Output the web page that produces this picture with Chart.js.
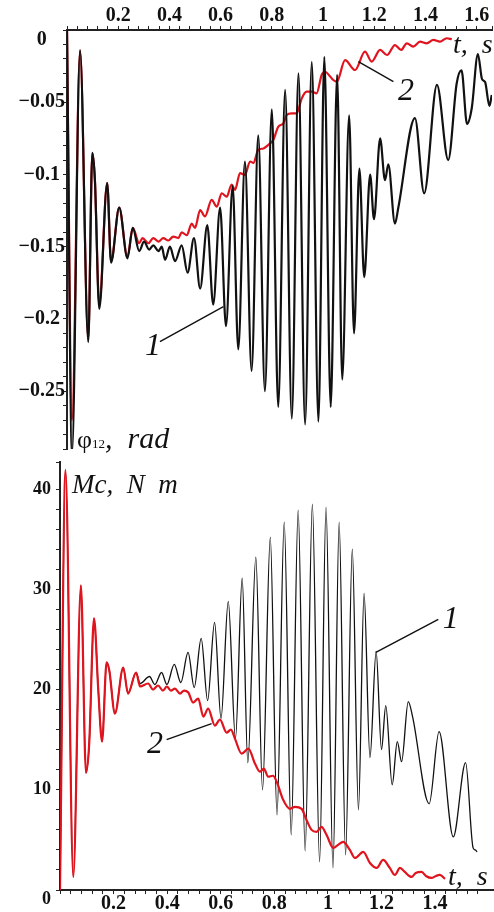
<!DOCTYPE html>
<html>
<head>
<meta charset="utf-8">
<script src="https://cdn.jsdelivr.net/npm/chart.js@4"></script>
<style>
  html, body { margin: 0; padding: 0; background: #fff; }
  #wrap { position: relative; width: 494px; height: 912px; }
  #topChart { position: absolute; left: 0; top: 0; }
  #bottomChart { position: absolute; left: 0; top: 455px; }
</style>
</head>
<body>
<div id="wrap">
  <canvas id="topChart" width="494" height="455"></canvas>
  <canvas id="bottomChart" width="494" height="457"></canvas>
</div>
<script>
// phi12 (rad) - curve 1 (black)
const phi1T = [0, 0.0195, 0.051, 0.083, 0.099, 0.109, 0.126, 0.157, 0.172, 0.204,
  0.236, 0.257, 0.282, 0.301, 0.321, 0.337, 0.357, 0.370, 0.383, 0.402,
  0.422, 0.448, 0.471, 0.496, 0.520, 0.548, 0.571, 0.598, 0.621, 0.647,
  0.669, 0.695, 0.721, 0.747, 0.773, 0.800, 0.825, 0.852, 0.878, 0.904,
  0.930, 0.956, 0.982, 1.005, 1.030, 1.055, 1.075, 1.102, 1.121, 1.142,
  1.161, 1.184, 1.199, 1.223, 1.242, 1.255, 1.281, 1.294, 1.359, 1.395,
  1.445, 1.489, 1.522, 1.541, 1.5625, 1.581, 1.605, 1.621, 1.633, 1.650, 1.659];
const phi1V = [0, -0.293, -0.014, -0.216, -0.085, -0.104, -0.193, -0.106, -0.161, -0.123,
  -0.158, -0.137, -0.153, -0.1465, -0.152, -0.149, -0.153, -0.150, -0.159, -0.150,
  -0.160, -0.149, -0.168, -0.144, -0.179, -0.135, -0.190, -0.123, -0.205, -0.108,
  -0.221, -0.091, -0.236, -0.073, -0.250, -0.055, -0.261, -0.0415, -0.269, -0.030,
  -0.273, -0.022, -0.271, -0.0185, -0.261, -0.031, -0.242, -0.059, -0.210, -0.096,
  -0.171, -0.100, -0.131, -0.075, -0.104, -0.093, -0.134, -0.123, -0.061, -0.113,
  -0.038, -0.090, -0.037, -0.028, -0.065, -0.054, -0.0166, -0.034, -0.036, -0.0526, -0.045];

// phi12 (rad) - curve 2 (red)
const phi2T = [0, 0.0195, 0.051, 0.083, 0.099, 0.109, 0.126, 0.157, 0.172, 0.204,
  0.236, 0.257, 0.282, 0.295, 0.318, 0.337, 0.357, 0.376, 0.396, 0.415,
  0.435, 0.448, 0.468, 0.487, 0.500, 0.520, 0.539, 0.565, 0.585, 0.604,
  0.624, 0.643, 0.656, 0.676, 0.695, 0.715, 0.728, 0.747, 0.767, 0.786,
  0.806, 0.825, 0.845, 0.858, 0.878, 0.897, 0.917, 0.936, 0.956, 0.975,
  0.995, 1.008, 1.027, 1.040, 1.054, 1.086, 1.125, 1.164, 1.190, 1.223,
  1.250, 1.281, 1.305, 1.327, 1.352, 1.379, 1.405, 1.431, 1.457, 1.483, 1.503];
const phi2V = [0, -0.27, -0.014, -0.214, -0.085, -0.104, -0.19, -0.106, -0.16, -0.123,
  -0.157, -0.137, -0.1476, -0.144, -0.1476, -0.144, -0.1465, -0.144, -0.1457, -0.143,
  -0.144, -0.140, -0.142, -0.134, -0.137, -0.1246, -0.129, -0.1176, -0.1223, -0.113,
  -0.1153, -0.107, -0.1107, -0.099, -0.1003, -0.091, -0.092, -0.083, -0.082, -0.0796,
  -0.076, -0.067, -0.0646, -0.0588, -0.0577, -0.0577, -0.0473, -0.0427, -0.0427, -0.0438,
  -0.031, -0.0289, -0.032, -0.0346, -0.0358, -0.0208, -0.0277, -0.015, -0.0219, -0.0138,
  -0.0173, -0.0104, -0.0138, -0.0092, -0.0115, -0.0081, -0.0092, -0.0069, -0.0081, -0.0057, -0.0064];

// Mc (N m) - curve 1 (black)
const m1T = [0, 0.0205, 0.0496, 0.078, 0.097, 0.109, 0.127, 0.143, 0.157, 0.174,
  0.184, 0.205, 0.236, 0.254, 0.284, 0.299, 0.334, 0.354, 0.379, 0.399,
  0.4265, 0.451, 0.478, 0.501, 0.527, 0.551, 0.577, 0.601, 0.628, 0.655,
  0.680, 0.701, 0.731, 0.756, 0.785, 0.810, 0.837, 0.863, 0.889, 0.915,
  0.942, 0.969, 0.993, 1.019, 1.042, 1.066, 1.091, 1.114, 1.135, 1.157,
  1.180, 1.200, 1.216, 1.240, 1.259, 1.275, 1.300, 1.316, 1.378, 1.415,
  1.468, 1.514, 1.542, 1.550, 1.557];
const m1V = [0, 41.9, 1.3, 30.4, 11.7, 14.6, 27.1, 19.9, 14.8, 22.7,
  21.9, 17.6, 22.2, 19.6, 21.7, 20.6, 21.3, 20.5, 21.7, 20.5,
  22.5, 20.7, 23.7, 20.2, 25.1, 18.9, 26.7, 17.1, 28.8, 15.1,
  31.1, 12.7, 33.2, 10.0, 35.2, 7.5, 36.7, 5.5, 37.9, 3.9,
  38.5, 2.8, 38.2, 2.2, 36.7, 3.5, 34.0, 8.0, 29.6, 13.2,
  23.8, 14.0, 18.4, 10.5, 14.8, 12.8, 18.8, 17.3, 8.6, 15.8,
  5.3, 12.7, 4.2, 4.0, 3.8];

// Mc (N m) - curve 2 (red)
const m2T = [0, 0.0205, 0.0496, 0.078, 0.097, 0.109, 0.127, 0.143, 0.157, 0.174,
  0.184, 0.205, 0.236, 0.254, 0.284, 0.299, 0.329, 0.347, 0.366, 0.384,
  0.399, 0.414, 0.429, 0.448, 0.463, 0.479, 0.497, 0.516, 0.535, 0.553,
  0.578, 0.597, 0.622, 0.638, 0.653, 0.678, 0.703, 0.728, 0.746, 0.761,
  0.777, 0.795, 0.809, 0.833, 0.858, 0.877, 0.902, 0.920, 0.939, 0.958,
  0.976, 0.995, 1.020, 1.038, 1.057, 1.082, 1.101, 1.132, 1.157, 1.182,
  1.206, 1.231, 1.250, 1.269, 1.287, 1.312, 1.328, 1.350, 1.366, 1.387,
  1.403, 1.418, 1.437];
const m2V = [0, 41.9, 1.3, 30.4, 11.7, 14.6, 27.1, 19.9, 14.8, 22.7,
  21.9, 17.6, 22.2, 19.6, 21.7, 20.3, 20.6, 20.0, 20.4, 19.9,
  20.3, 19.9, 20.1, 19.6, 19.9, 19.7, 18.7, 19.1, 17.3, 18.1,
  16.4, 17.0, 15.7, 16.0, 15.1, 13.6, 14.1, 12.6, 11.8, 12.1,
  11.3, 11.4, 10.8, 9.0, 8.1, 8.3, 8.1, 7.0, 6.0, 5.8,
  6.3, 5.5, 4.2, 4.5, 4.8, 4.0, 3.2, 3.8, 2.7, 2.2,
  3.0, 2.2, 1.5, 2.2, 1.8, 1.3, 1.7, 1.8, 1.4, 1.2,
  1.4, 1.5, 1.1];

const serif = "'Liberation Serif', 'DejaVu Serif', serif";
const RED = '#e0141e';
const INK = '#111';

// pasangkan array waktu dan nilai jadi titik {x, y}
function xy(ts, vs) {
  return ts.map(function (t, i) { return { x: t, y: vs[i] }; });
}

// label hanya pada kelipatan "step", tanda minus tipografis
function majorLabel(step, decimals, zeroText) {
  return function (value) {
    const k = value / step;
    if (Math.abs(k - Math.round(k)) > 1e-6) return '';
    const v = Math.round(value * Math.pow(10, decimals)) / Math.pow(10, decimals);
    if (v === 0) return zeroText;
    return String(v).replace('-', '\u2212');
  };
}

// teks dan garis penunjuk, posisinya dalam satuan data
function makeNotes(texts, lines) {
  return {
    id: 'notes',
    afterDatasetsDraw(chart) {
      const ctx = chart.ctx;
      const sx = chart.scales.x;
      const sy = chart.scales.y;
      ctx.save();
      ctx.strokeStyle = INK;
      ctx.lineWidth = 1.4;
      lines.forEach(function (l) {
        ctx.beginPath();
        ctx.moveTo(sx.getPixelForValue(l[0]), sy.getPixelForValue(l[1]));
        ctx.lineTo(sx.getPixelForValue(l[2]), sy.getPixelForValue(l[3]));
        ctx.stroke();
      });
      ctx.fillStyle = INK;
      ctx.textBaseline = 'alphabetic';
      ctx.textAlign = 'left';
      texts.forEach(function (t) {
        let px = sx.getPixelForValue(t.x);
        const py = sy.getPixelForValue(t.y);
        t.runs.forEach(function (r) {
          ctx.font = r[1];
          ctx.fillText(r[0], px, py + (r[2] || 0));
          px += ctx.measureText(r[0]).width;
        });
      });
      ctx.restore();
    }
  };
}

function axisGrid() {
  return { display: true, drawOnChartArea: false, drawTicks: true, tickLength: 4, tickColor: '#222', tickWidth: 1 };
}

const it = 'italic 28px ' + serif;
const big = 'italic 32px ' + serif;

// grafik atas: phi12
new Chart(document.getElementById('topChart'), {
  type: 'line',
  data: {
    datasets: [
      { data: xy(phi1T, phi1V), borderColor: INK, borderWidth: 2.2, pointRadius: 0, cubicInterpolationMode: 'monotone', order: 1 },
      { data: xy(phi2T, phi2V), borderColor: RED, borderWidth: 2.2, pointRadius: 0, cubicInterpolationMode: 'monotone', order: 2 }
    ]
  },
  options: {
    responsive: false,
    animation: false,
    events: [],
    layout: { padding: { left: 0, right: 2, top: 0, bottom: 6 } },
    plugins: { legend: { display: false }, tooltip: { enabled: false } },
    scales: {
      x: {
        type: 'linear', position: 'top', min: 0, max: 1.66,
        grid: axisGrid(),
        border: { display: true, color: '#222', width: 2 },
        ticks: { stepSize: 0.04, autoSkip: false, maxRotation: 0, padding: 0, color: INK,
          font: { family: serif, size: 20, weight: 'bold', lineHeight: 1 },
          callback: majorLabel(0.2, 1, '') },
        afterFit: function (s) { s.height = 30; s.paddingLeft = 0; s.paddingRight = 0; }
      },
      y: {
        type: 'linear', position: 'left', min: -0.29, max: 0,
        grid: axisGrid(),
        border: { display: true, color: '#222', width: 2 },
        ticks: { stepSize: 0.01, autoSkip: false, padding: -2, crossAlign: 'center', color: INK,
          font: { family: serif, size: 20, weight: 'bold', lineHeight: 1 },
          callback: majorLabel(0.05, 2, ['', '0']) },
        afterFit: function (s) { s.width = 67; s.paddingTop = 0; s.paddingBottom = 0; }
      }
    }
  },
  plugins: [makeNotes([
    { x: 1.508, y: -0.0159, runs: [['t,  s', it]] },
    { x: 1.293, y: -0.0484, runs: [['2', big]] },
    { x: 0.305, y: -0.225, runs: [['1', big]] },
    { x: 0.039, y: -0.2893, runs: [['\u03c6', '26px ' + serif], ['12', '13px ' + serif], [',  rad', 'italic 30px ' + serif]] }
  ], [
    [1.138, -0.0219, 1.275, -0.0358],
    [0.363, -0.2157, 0.611, -0.1915]
  ])]
});

// grafik bawah: Mc
new Chart(document.getElementById('bottomChart'), {
  type: 'line',
  data: {
    datasets: [
      { data: xy(m1T, m1V), borderColor: INK, borderWidth: 1.3, pointRadius: 0, cubicInterpolationMode: 'monotone', order: 2 },
      { data: xy(m2T, m2V), borderColor: RED, borderWidth: 2.2, pointRadius: 0, cubicInterpolationMode: 'monotone', order: 1 }
    ]
  },
  options: {
    responsive: false,
    animation: false,
    events: [],
    layout: { padding: { left: 0, right: 0, top: 7, bottom: 0 } },
    plugins: { legend: { display: false }, tooltip: { enabled: false } },
    scales: {
      x: {
        type: 'linear', position: 'bottom', min: 0, max: 1.62,
        grid: axisGrid(),
        border: { display: true, color: '#222', width: 2 },
        ticks: { stepSize: 0.04, autoSkip: false, maxRotation: 0, padding: 0, color: INK,
          font: { family: serif, size: 20, weight: 'bold', lineHeight: 1 },
          callback: majorLabel(0.2, 1, '') },
        afterFit: function (s) { s.height = 22; s.paddingLeft = 0; s.paddingRight = 0; }
      },
      y: {
        type: 'linear', position: 'left', min: 0, max: 42.7,
        grid: axisGrid(),
        border: { display: true, color: '#222', width: 2 },
        ticks: { stepSize: 2, autoSkip: false, padding: 5, color: INK,
          font: { family: serif, size: 18, weight: 'bold', lineHeight: 1 },
          callback: majorLabel(10, 0, ['', '0']) },
        afterFit: function (s) { s.width = 60; s.paddingTop = 0; s.paddingBottom = 0; }
      }
    }
  },
  plugins: [makeNotes([
    { x: 0.045, y: 39.6, runs: [['Mc,  N  m', 'italic 27px ' + serif]] },
    { x: 1.429, y: 26.1, runs: [['1', big]] },
    { x: 0.325, y: 13.7, runs: [['2', big]] },
    { x: 1.448, y: 0.5, runs: [['t,  s', it]] }
  ], [
    [1.412, 27.0, 1.179, 23.7],
    [0.398, 15.0, 0.566, 16.6]
  ])]
});
</script>
</body>
</html>
